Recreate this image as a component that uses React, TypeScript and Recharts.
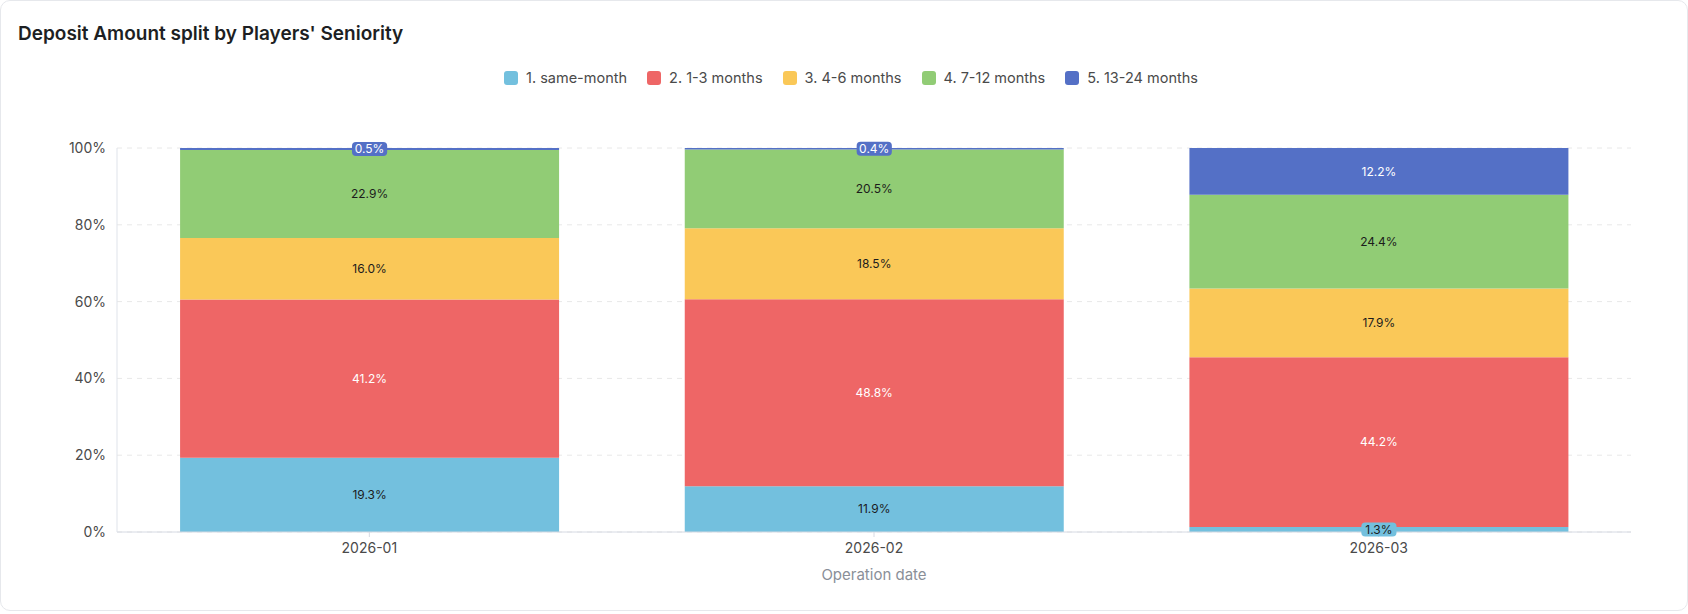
import { BarChart, Bar, XAxis, YAxis, CartesianGrid, Legend, LabelList } from 'recharts';

const categories = ['2026-01', '2026-02', '2026-03'];
const sameMonth = [19.3, 11.9, 1.3];
const oneToThree = [41.2, 48.8, 44.2];
const fourToSix = [16.0, 18.5, 17.9];
const sevenToTwelve = [22.9, 20.5, 24.4];
const thirteenToTwentyFour = [0.5, 0.4, 12.2];
const yTicks = [0, 0.2, 0.4, 0.6, 0.8, 1];

const seriesKeys = ['s1', 's2', 's3', 's4', 's5'];
const seriesNames = ['1. same-month', '2. 1-3 months', '3. 4-6 months', '4. 7-12 months', '5. 13-24 months'];
const seriesValues = [sameMonth, oneToThree, fourToSix, sevenToTwelve, thirteenToTwentyFour];
const seriesColors = ['#73c0de', '#ee6666', '#fac858', '#91cc75', '#5470c6'];
const labelColors = ['#1c1c1c', '#ffffff', '#1c1c1c', '#1c1c1c', '#ffffff'];

const chartData = categories.map((category, i) => {
  const row: Record<string, string | number> = { category };
  seriesKeys.forEach((k, si) => {
    row[k] = seriesValues[si][i];
  });
  return row;
});

const FONT = 'Inter, "Noto Sans", sans-serif';

function makeLabel(si: number) {
  return (props: any) => {
    const vb = props.viewBox && props.viewBox.width !== undefined ? props.viewBox : props;
    const x = Number(vb.x);
    const width = Number(vb.width);
    const h = Number(vb.height);
    const y = h < 0 ? Number(vb.y) + h : Number(vb.y);
    const height = Math.abs(h);
    let v = props.value;
    if (typeof v !== 'number') v = seriesValues[si][props.index ?? 0];
    const text = `${Number(v).toFixed(1)}%`;
    const cx = x + width / 2;
    const cy = y + height / 2;
    if (height < 14) {
      const w = text.length * 6.8 + 8;
      return (
        <g>
          <rect x={cx - w / 2} y={cy - 7} width={w} height={14} rx={4} fill={seriesColors[si]} />
          <text x={cx} y={cy} dy="0.35em" textAnchor="middle" fontSize={12} fontFamily={FONT} fill={labelColors[si]}>
            {text}
          </text>
        </g>
      );
    }
    return (
      <text x={cx} y={cy} dy="0.35em" textAnchor="middle" fontSize={12} fontFamily={FONT} fill={labelColors[si]}>
        {text}
      </text>
    );
  };
}

function LegendContent() {
  return (
    <div
      style={{
        display: 'flex',
        justifyContent: 'center',
        alignItems: 'center',
        fontFamily: FONT,
        fontSize: 14.5,
        color: '#4a4a4a',
        paddingLeft: 14,
      }}
    >
      {seriesNames.map((name, i) => (
        <div key={name} style={{ display: 'flex', alignItems: 'center', marginRight: i < seriesNames.length - 1 ? 20 : 0 }}>
          <span style={{ width: 14, height: 14, borderRadius: 3, background: seriesColors[i], marginRight: 8, display: 'inline-block' }} />
          <span>{name}</span>
        </div>
      ))}
    </div>
  );
}

export default function App() {
  return (
    <div style={{ position: 'relative', width: 1688, height: 614, background: '#ffffff', fontFamily: FONT }}>
      <style>{'body{margin:0;}'}</style>
      <div
        style={{
          position: 'absolute',
          left: 0,
          top: 0,
          width: 1686,
          height: 609,
          border: '1px solid #e6e8ec',
          borderRadius: 10,
          boxSizing: 'content-box',
        }}
      />
      <div
        style={{
          position: 'absolute',
          left: 18,
          top: 22,
          fontSize: 19,
          fontWeight: 600,
          color: '#1d1f23',
          lineHeight: '24px',
        }}
      >
        Deposit Amount split by Players' Seniority
      </div>
      <div style={{ position: 'absolute', left: 0, top: 0 }}>
        <BarChart
          width={1688}
          height={614}
          data={chartData}
          stackOffset="expand"
          barCategoryGap="12.5%"
          margin={{ top: 148, right: 57, bottom: 52, left: 0 }}
        >
          <CartesianGrid vertical={false} strokeDasharray="5 5" stroke="#e8e8e8" />
          <XAxis
            dataKey="category"
            height={30}
            tickSize={5}
            tickMargin={6}
            tick={{ fontSize: 14, fill: '#4a4a4a', fontFamily: FONT }}
            axisLine={{ stroke: '#d6dae3' }}
            tickLine={{ stroke: '#d6dae3' }}
            label={{ value: 'Operation date', position: 'bottom', offset: 7, fontSize: 15, fill: '#8a8f98', fontFamily: FONT }}
          />
          <YAxis
            width={117}
            domain={[0, 1]}
            ticks={yTicks}
            tickFormatter={(v: number) => `${Math.round(v * 100)}%`}
            tickLine={false}
            tickSize={0}
            tickMargin={11}
            tick={{ fontSize: 14, fill: '#4a4a4a', fontFamily: FONT }}
            axisLine={{ stroke: '#dfe3ea' }}
          />
          <Legend
            layout="horizontal"
            verticalAlign="middle"
            align="center"
            wrapperStyle={{ position: 'absolute', top: 69, left: 0, width: 1688 }}
            content={() => <LegendContent />}
          />
          {seriesKeys.map((k, si) => (
            <Bar key={k} dataKey={k} name={seriesNames[si]} stackId="a" fill={seriesColors[si]} isAnimationActive={false}>
              <LabelList dataKey={k} content={makeLabel(si)} />
            </Bar>
          ))}
        </BarChart>
      </div>
    </div>
  );
}
